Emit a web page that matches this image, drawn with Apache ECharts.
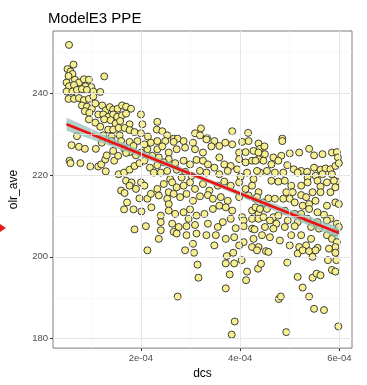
<!DOCTYPE html>
<html><head><meta charset="utf-8">
<script src="https://cdn.jsdelivr.net/npm/echarts@6/dist/echarts.min.js"></script>
<style>html,body{margin:0;padding:0;background:#fff}#c{width:367px;height:385px}</style>
</head><body><div id="c"></div>
<script>
// dcs values are given in units of 1e-4
const titleText = 'ModelE3 PPE';
const xName = 'dcs';
const yName = 'olr_ave';
const xTicks = [2, 4, 6];
const xMinorGrid = [1, 3, 5];
const yTicks = [180, 200, 220, 240];
const yMinorGrid = [190, 210, 230, 250];
const fitX = [0.5, 5.98];
const fitY = [232.4, 205.9];
const bandX = [0.5, 1.5, 2.5, 3.3, 4.2, 5.0, 5.98];
const bandLow = [230.8, 226.6, 222.1, 218.3, 213.8, 209.7, 204.5];
const bandHigh = [234.0, 228.6, 223.4, 219.4, 215.2, 211.6, 207.3];

const ptsLeftTop = [[0.55,251.8],[0.64,247.0],[0.52,245.9],[0.58,245.3],[0.62,244.7],[0.54,244.2],[0.50,242.6],[0.67,243.3],[0.75,242.6],[0.85,243.4],[0.95,243.3],[1.26,244.1],[0.55,241.7],[0.65,242.0],[0.88,241.7],[1.00,241.5],[0.50,240.4],[0.62,240.4],[0.71,240.8],[0.81,241.0],[0.91,240.8],[1.04,240.4],[1.18,240.3],[0.54,238.6],[0.65,238.6],[0.75,238.8],[0.85,238.3],[0.95,238.6],[1.04,239.2],[0.81,237.0],[0.91,236.7],[1.01,236.2],[1.08,237.5],[0.87,235.6],[0.96,235.2],[1.14,234.8],[1.22,237.0],[1.29,235.8],[1.37,236.6],[1.44,236.0],[1.53,236.2],[1.62,237.0],[1.70,236.7],[1.80,236.2],[1.24,234.8],[1.34,234.2],[1.44,234.8],[1.52,234.2],[1.62,234.6],[1.70,235.0],[2.00,234.8],[0.95,233.6],[1.08,232.8],[1.18,231.8],[1.26,233.6],[1.39,233.4],[1.49,232.6],[1.58,233.2],[1.77,232.4],[2.03,232.4],[1.34,231.1],[1.44,231.1],[1.55,231.5],[1.67,231.5],[1.77,231.0],[1.87,230.5],[2.00,230.2],[2.14,229.4],[0.71,229.5],[1.24,229.7],[1.41,229.4],[1.57,229.7]];
const ptsLeftMid = [[0.60,227.3],[0.75,226.9],[0.87,226.4],[1.09,226.4],[0.56,223.5],[0.58,222.9],[0.78,222.9],[0.98,222.1],[1.14,222.1],[1.20,222.6],[1.28,223.8],[1.29,220.9],[1.46,223.5],[1.54,224.7],[1.67,226.4],[1.77,225.6],[1.90,224.8],[2.00,225.5],[2.13,226.3],[1.55,220.2],[1.66,220.6],[1.77,221.3],[1.87,222.2],[1.97,222.9],[2.07,223.5],[1.70,218.6],[1.81,218.2],[1.77,217.4],[2.00,218.2],[1.90,216.6],[2.07,217.4],[1.60,216.2],[1.67,215.6],[1.97,214.3],[1.72,213.3],[2.13,214.2],[2.20,215.4],[1.66,211.6],[1.85,211.6],[2.01,211.1],[2.21,212.1],[1.87,206.7],[2.10,207.5],[1.21,227.9],[1.41,228.3],[1.60,228.3],[1.77,228.1],[1.93,228.3],[2.07,227.5],[2.20,227.9],[1.85,227.1],[1.70,225.4],[1.44,225.9],[1.31,224.8],[2.23,224.7],[2.18,221.8],[2.26,220.6]];
const ptsUpperMid = [[2.33,233.0],[2.32,231.1],[2.43,230.7],[2.53,229.7],[2.66,228.9],[2.74,228.9],[3.09,230.2],[3.21,231.4],[3.19,229.7],[3.33,229.1],[3.84,230.7],[4.16,230.3],[4.85,228.9]];
const ptsCenter = [[2.33,228.3],[2.49,228.3],[2.66,228.1],[2.86,228.3],[3.05,227.9],[3.32,228.7],[3.48,228.3],[3.58,227.1],[3.70,227.9],[3.84,227.5],[4.04,228.1],[4.17,228.3],[4.37,227.7],[2.33,226.3],[2.43,227.0],[2.56,225.5],[2.72,226.3],[2.89,226.7],[3.09,226.3],[3.25,225.5],[3.42,227.0],[3.98,225.5],[4.11,225.6],[4.27,225.9],[4.40,226.4],
[2.36,224.3],[2.56,223.9],[2.69,222.9],[2.86,223.5],[2.99,222.6],[3.12,223.7],[3.25,223.5],[3.35,222.6],[3.58,224.3],[3.68,222.6],[3.81,222.2],[3.98,223.9],[4.11,223.1],[4.24,223.5],[4.37,223.9],[2.33,222.4],[2.46,223.1],
[2.40,220.6],[2.53,221.0],[2.72,221.3],[2.89,220.8],[3.02,219.8],[3.19,221.0],[3.32,220.6],[3.48,221.8],[3.58,220.2],[3.75,221.0],[3.94,221.4],[4.01,219.6],[4.14,220.6],[4.27,219.0],[4.40,220.6],[2.59,219.0],[2.82,219.4],
[2.33,216.6],[2.46,217.8],[2.63,218.2],[2.72,217.0],[2.86,217.4],[2.99,218.2],[3.09,216.6],[3.25,217.8],[3.38,216.2],[3.55,217.4],[3.68,218.4],[3.81,217.4],[3.98,218.2],[4.11,216.6],[4.24,217.4],[4.37,215.8],[2.56,215.8],
[2.36,215.0],[2.53,214.2],[2.66,215.4],[2.79,214.6],[2.92,215.4],[3.05,213.7],[3.19,214.8],[3.35,215.1],[3.45,214.2],[3.61,214.6],[3.75,213.7],[3.98,214.6],[4.17,215.0],[4.31,214.2],[2.56,212.9],
[2.40,210.1],[2.56,211.3],[2.69,210.5],[2.86,210.9],[2.99,211.6],[3.12,210.1],[3.28,210.5],[3.45,211.7],[3.58,212.5],[3.71,212.1],[3.84,211.3],[4.04,209.7],[4.24,211.3],[4.37,210.5],[2.96,209.3],[3.81,209.3],[4.07,208.9],[4.24,209.3],
[2.40,208.5],[2.63,208.1],[2.76,207.3],[2.92,207.5],[3.09,207.8],[3.35,208.1],[3.55,207.3],[3.65,208.5],[3.91,207.0],[4.07,207.5],[4.24,206.9],[2.40,206.5],[2.66,206.1],
[2.36,204.4],[2.72,205.7],[2.92,205.3],[3.12,205.7],[3.32,205.3],[3.51,205.3],[3.71,204.4],[3.88,204.8],[4.07,203.6],[4.27,204.4],[3.05,203.2],[3.48,202.8],[3.98,202.8],[4.24,202.4]];
const ptsRight = [[4.85,228.3],[4.49,227.0],[4.37,225.5],[4.50,225.1],[4.67,224.3],[4.83,224.7],[5.00,225.3],[5.19,225.5],[5.39,226.4],[5.49,224.8],[5.66,225.1],[5.85,225.5],[5.95,225.6],[5.97,224.3],[4.31,223.5],[4.47,223.5],[4.63,222.6],[4.77,223.5],[4.95,222.4],[5.08,221.4],[5.23,221.0],[5.35,220.8],[5.49,221.8],[5.62,221.3],[5.72,221.6],[5.82,221.4],[5.92,222.2],[5.99,222.9],[4.34,221.0],[4.54,221.0],[4.70,220.6],[4.87,220.6],[5.16,220.6],[5.36,219.4],[5.52,219.8],[5.66,220.2],[5.85,220.2],[5.94,218.4],[4.63,218.6],[4.77,218.4],[4.90,218.6],[5.03,217.4],[5.23,217.4],[5.36,218.2],[5.56,218.6],[5.62,217.2],[5.75,218.2],[5.89,218.6],[4.93,215.8],[5.06,215.8],[5.23,215.1],[5.33,214.6],[5.46,215.8],[5.62,215.8],[5.82,215.8],[5.92,217.0],[4.34,214.6],[4.47,213.3],[4.57,214.3],[4.70,214.2],[4.87,214.2],[5.00,214.2],[5.10,213.3],[5.26,212.5],[5.39,212.9],[5.52,213.7],[5.75,212.5],[5.92,213.3],[5.99,212.9],[4.31,212.1],[4.40,211.7],[4.54,211.7],[4.67,209.7],[4.77,210.1],[4.90,211.3],[5.10,210.5],[5.23,210.5],[5.39,211.7],[5.56,210.9],[5.69,210.3],[5.82,209.3],[4.37,209.3],[4.47,209.7],[4.60,208.9],[4.73,208.1],[4.96,208.9],[5.16,208.5],[5.36,209.3],[5.56,208.5],[5.75,208.9],[5.95,208.1],[4.29,206.7],[4.50,207.3],[4.67,206.9],[4.90,207.3],[5.10,207.5],[5.43,207.3],[5.59,206.9],[5.75,205.3],[5.92,206.1],[5.99,207.3],[4.44,205.3],[4.60,204.8],[4.80,204.0],[5.03,205.3],[5.23,205.3],[5.43,204.4],[5.85,204.4],[5.95,203.6],[5.00,202.8],[5.19,202.4],[5.33,202.8],[5.56,202.2],[5.92,202.4],[4.37,202.4]];
const ptsLow = [[2.13,201.6],[2.89,201.6],[3.07,201.0],[3.14,198.1],[3.16,194.9],[2.74,190.3],[3.73,200.2],[3.86,201.0],[3.71,198.4],[3.88,198.4],[3.79,195.7],[3.71,192.3],[4.03,199.2],[4.14,196.4],[4.12,194.3],[4.36,197.1],[4.42,198.3],[3.89,184.2],[3.83,181.0],
[4.34,201.6],[4.52,201.4],[4.57,201.2],[4.95,198.6],[5.16,195.1],[5.26,192.5],[5.39,190.3],[4.78,189.7],[4.82,190.3],[5.49,187.3],[5.69,187.0],[5.98,183.0],[4.93,181.6],[5.46,194.9],[5.54,195.9],[5.62,195.5],[5.77,199.2],[5.85,196.8],[5.92,196.4],[5.94,199.2],[5.92,201.0],[5.16,200.8],[5.26,201.6],[5.39,201.4],[5.46,200.0],[5.52,201.6],[5.79,202.0]];

const allPts = [].concat(ptsLeftTop, ptsLeftMid, ptsUpperMid, ptsCenter, ptsRight, ptsLow);

const chart = echarts.init(document.getElementById('c'), null, {renderer: 'canvas'});
const font = 'Liberation Sans, Arial, sans-serif';
const gridLines = [].concat(
  xMinorGrid.map(v => ({xAxis: v, lineStyle: {color: '#f3f3f3', width: 0.6, type: 'solid'}})),
  yMinorGrid.map(v => ({yAxis: v, lineStyle: {color: '#f3f3f3', width: 0.6, type: 'solid'}})),
  xTicks.map(v => ({xAxis: v, lineStyle: {color: '#e6e6e6', width: 1, type: 'solid'}})),
  yTicks.map(v => ({yAxis: v, lineStyle: {color: '#e6e6e6', width: 1, type: 'solid'}}))
);

chart.setOption({
  animation: false,
  backgroundColor: '#fff',
  title: {text: titleText, left: 43, top: 6, textStyle: {fontFamily: font, fontSize: 15, fontWeight: 'normal', color: '#000'}},
  grid: {left: 47, right: 15, top: 31, bottom: 35, show: true, borderColor: '#7f7f7f', borderWidth: 1, backgroundColor: 'transparent'},
  xAxis: {
    type: 'value', min: 0.227, max: 6.255,
    name: xName, nameLocation: 'middle', nameGap: 17,
    nameTextStyle: {fontFamily: font, fontSize: 12, color: '#000'},
    axisLine: {show: false},
    axisTick: {show: true, length: 3, customValues: xTicks, lineStyle: {color: '#333'}},
    axisLabel: {customValues: xTicks, margin: 5, fontFamily: font, fontSize: 9.5, color: '#4d4d4d', formatter: v => v + 'e-04'},
    splitLine: {show: false}
  },
  yAxis: {
    type: 'value', min: 177.7, max: 255.2,
    name: yName, nameLocation: 'middle', nameGap: 33,
    nameTextStyle: {fontFamily: font, fontSize: 12, color: '#000'},
    axisLine: {show: false},
    axisTick: {show: true, length: 3, customValues: yTicks, lineStyle: {color: '#333'}},
    axisLabel: {customValues: yTicks, margin: 5, fontFamily: font, fontSize: 9.5, color: '#4d4d4d'},
    splitLine: {show: false}
  },
  graphic: [{type: 'polygon', shape: {points: [[0, 224], [6, 228], [0, 232]]}, style: {fill: '#ee1c1c'}}],
  series: [
    {type: 'scatter', data: [], z: 1, silent: true,
     markLine: {silent: true, symbol: ['none', 'none'], label: {show: false}, animation: false, data: gridLines}},
    {type: 'scatter', data: allPts, z: 2, symbol: 'circle', symbolSize: 7,
     itemStyle: {color: '#f8f08e', borderColor: '#2a2a2a', borderWidth: 0.9, opacity: 1}},
    {type: 'custom', z: 3, silent: true, data: [0],
     renderItem: (params, api) => {
       const upper = bandX.map((x, i) => api.coord([x, bandHigh[i]]));
       const lower = bandX.map((x, i) => api.coord([x, bandLow[i]])).reverse();
       return {type: 'polygon', shape: {points: upper.concat(lower)}, style: {fill: 'rgba(150,192,186,0.75)'}};
     }},
    {type: 'line', data: fitX.map((x, i) => [x, fitY[i]]), symbol: 'none', z: 4,
     lineStyle: {color: '#ee1111', width: 2.6}, silent: true}
  ]
});
</script></body></html>
